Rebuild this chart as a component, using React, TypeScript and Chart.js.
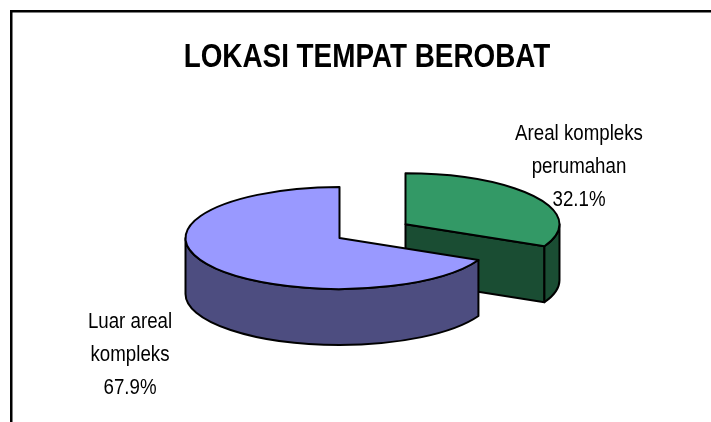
import React, { useEffect, useRef } from "react";
import { Chart, registerables } from "chart.js";

Chart.register(...registerables);

const titleText = "LOKASI TEMPAT BEROBAT";
const categories = ["Areal kompleks\nperumahan", "Luar areal\nkompleks"];
const shares = [32.1, 67.9];
const topColors = ["#339966", "#9999FF"];
const wallColors = ["#1A4D33", "#4D4D80"];
const sliceExplode = [78, 0];

const TILT = 0.331;
const DEPTH = 56;
const FONT = '"Liberation Sans"';
const LABEL_ANCHORS = [
  { x: 579, y: 134 },
  { x: 130, y: 322 },
];

function squeezedText(ctx: any, text: string, x: number, y: number, sx: number) {
  ctx.save();
  ctx.translate(x, y);
  ctx.scale(sx, 1);
  ctx.fillText(text, 0, 0);
  ctx.restore();
}

const tiltPlugin = {
  id: "tilt",
  beforeDraw(chart: any) {
    const { ctx } = chart;
    ctx.save();
    ctx.strokeStyle = "#000";
    ctx.lineWidth = 2.5;
    ctx.beginPath();
    ctx.moveTo(11.25, 422);
    ctx.lineTo(11.25, 11.25);
    ctx.lineTo(711, 11.25);
    ctx.stroke();
    ctx.fillStyle = "#000";
    ctx.textAlign = "center";
    ctx.textBaseline = "alphabetic";
    ctx.font = `bold 33px ${FONT}`;
    squeezedText(ctx, titleText, 367, 66.5, 0.844);
    ctx.restore();
  },
  beforeDatasetsDraw(chart: any) {
    const { ctx } = chart;
    const arcs = chart.getDatasetMeta(0).data;
    const tr = (cy: number) => {
      ctx.translate(0, cy * (1 - TILT));
      ctx.scale(1, TILT);
    };
    const centre = (arc: any, i: number) => {
      const mid = (arc.startAngle + arc.endAngle) / 2;
      return [arc.x + Math.cos(mid) * sliceExplode[i], arc.y + Math.sin(mid) * sliceExplode[i]];
    };
    ctx.lineWidth = 2;
    ctx.lineJoin = "round";
    ctx.strokeStyle = "#000";

    // side walls
    arcs.forEach((arc: any, i: number) => {
      const { y, startAngle, endAngle, outerRadius } = arc;
      const [ox, oy] = centre(arc, i);
      const face = (build: () => void) => {
        ctx.save();
        tr(y);
        build();
        ctx.restore();
        ctx.fillStyle = wallColors[i];
        ctx.fill();
        ctx.stroke();
      };
      if (Math.cos(endAngle) > 0.001) {
        const ex = ox + Math.cos(endAngle) * outerRadius;
        const ey = oy + Math.sin(endAngle) * outerRadius;
        face(() => {
          ctx.beginPath();
          ctx.moveTo(ox, oy);
          ctx.lineTo(ex, ey);
          ctx.lineTo(ex, ey + DEPTH / TILT);
          ctx.lineTo(ox, oy + DEPTH / TILT);
          ctx.closePath();
        });
      }
      const TWO = Math.PI * 2;
      for (const k of [0, 1]) {
        const from = Math.max(startAngle, k * TWO);
        const to = Math.min(endAngle, k * TWO + Math.PI);
        if (to <= from) continue;
        face(() => {
          ctx.beginPath();
          ctx.arc(ox, oy, outerRadius, from, to);
          ctx.arc(ox, oy + DEPTH / TILT, outerRadius, to, from, true);
          ctx.closePath();
        });
      }
    });

    // top faces: the library's own arc elements, tilted and exploded
    arcs.forEach((arc: any, i: number) => {
      const [ox, oy] = centre(arc, i);
      ctx.save();
      tr(arc.y);
      ctx.translate(ox - arc.x, oy - arc.y);
      arc.draw(ctx, chart.chartArea);
      ctx.restore();
      ctx.save();
      tr(arc.y);
      ctx.beginPath();
      ctx.moveTo(ox, oy);
      ctx.arc(ox, oy, arc.outerRadius, arc.startAngle, arc.endAngle);
      ctx.closePath();
      ctx.restore();
      ctx.strokeStyle = "#000";
      ctx.stroke();
    });

    // labels
    ctx.save();
    ctx.fillStyle = "#000";
    ctx.textAlign = "center";
    ctx.textBaseline = "middle";
    ctx.font = `22.4px ${FONT}`;
    shares.forEach((v, i) => {
      const lines = [...categories[i].split("\n"), v.toFixed(1) + "%"];
      lines.forEach((ln, j) =>
        squeezedText(ctx, ln, LABEL_ANCHORS[i].x, LABEL_ANCHORS[i].y + j * 33, 0.835),
      );
    });
    ctx.restore();
    return false;
  },
};

export default function App() {
  const ref = useRef<HTMLCanvasElement>(null);
  useEffect(() => {
    const chart = new Chart(ref.current!, {
      type: "pie",
      data: {
        labels: categories,
        datasets: [
          {
            data: shares,
            backgroundColor: topColors,
            borderWidth: 0,
            radius: 154,
          } as any,
        ],
      },
      options: {
        responsive: false,
        animation: false,
        layout: { padding: { left: 1, right: 33, top: 54, bottom: 0 } },
        plugins: {
          legend: { display: false },
          tooltip: { enabled: false },
        },
      },
      plugins: [tiltPlugin],
    });
    return () => chart.destroy();
  }, []);
  return (
    <canvas
      ref={ref}
      width={711}
      height={422}
      style={{ position: "absolute", left: 0, top: 0, width: 711, height: 422, display: "block" }}
    />
  );
}
